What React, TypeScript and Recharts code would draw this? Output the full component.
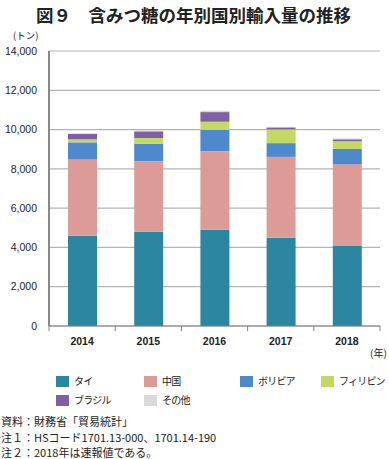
import React from 'react';
import { BarChart, Bar, XAxis, YAxis, CartesianGrid } from 'recharts';

const years = ['2014', '2015', '2016', '2017', '2018'];
const thai = [4600, 4800, 4900, 4490, 4070];
const china = [3870, 3580, 3990, 4120, 4160];
const bolivia = [880, 900, 1090, 700, 785];
const philippines = [150, 290, 420, 700, 390];
const brazil = [275, 340, 490, 100, 100];
const others = [30, 40, 70, 35, 40];
const yTicks = [0, 2000, 4000, 6000, 8000, 10000, 12000, 14000];

const series = [
  { key: 'thai', name: 'タイ', color: '#2b87a1', values: thai },
  { key: 'china', name: '中国', color: '#dd9b98', values: china },
  { key: 'bolivia', name: 'ボリビア', color: '#4f89cd', values: bolivia },
  { key: 'philippines', name: 'フィリピン', color: '#c3d963', values: philippines },
  { key: 'brazil', name: 'ブラジル', color: '#7f5fa6', values: brazil },
  { key: 'others', name: 'その他', color: '#d9d9d9', values: others },
];

const data = years.map((y, i) => {
  const row: Record<string, string | number> = { year: y };
  series.forEach((s) => {
    row[s.key] = s.values[i];
  });
  return row;
});

const jp = '"Noto Sans CJK JP", "Noto Sans", sans-serif';
const num = '"Liberation Sans", Arial, sans-serif';

const XTick = (props: any) => {
  const { x, y, payload, index, width, visibleTicksCount } = props;
  const half = width / visibleTicksCount / 2;
  return (
    <g>
      <line x1={x - half} x2={x - half} y1={y} y2={y + 5} stroke="#808080" strokeWidth={1} />
      {index === visibleTicksCount - 1 && (
        <line x1={x + half} x2={x + half} y1={y} y2={y + 5} stroke="#808080" strokeWidth={1} />
      )}
      <text x={x} y={y + 19} textAnchor="middle" fontFamily={num} fontSize={10.5} fontWeight="bold" fill="#222">
        {payload.value}
      </text>
    </g>
  );
};

const legendRows = [
  [series[0], series[1], series[2], series[3]],
  [series[4], series[5]],
];
const legendX = [56, 144, 240, 321];
const legendY = [381, 400];

export default function App() {
  return (
    <div style={{ position: 'absolute', left: 0, top: 0, width: 389, height: 459, background: '#fff', overflow: 'hidden' }}>
      <div style={{ position: 'absolute', left: 36, top: 4, fontFamily: jp, fontWeight: 'bold', fontSize: 17.5, lineHeight: '22px', color: '#222', whiteSpace: 'nowrap' }}>
        図９　含みつ糖の年別国別輸入量の推移
      </div>
      <div style={{ position: 'absolute', left: 13, top: 29, fontFamily: jp, fontSize: 9.5, lineHeight: '12px', color: '#222', whiteSpace: 'nowrap' }}>
        (トン)
      </div>
      <div style={{ position: 'absolute', left: 0, top: 0 }}>
        <BarChart width={389} height={360} data={data} margin={{ top: 51, right: 9, bottom: 0, left: 0 }}>
          <CartesianGrid vertical={false} stroke="#b3b3b3" strokeWidth={1.2} />
          <XAxis
            dataKey="year"
            height={34}
            tickSize={0}
            tickMargin={0}
            tickLine={false}
            axisLine={{ stroke: '#808080', strokeWidth: 1.2 }}
            tick={<XTick />}
            interval={0}
          />
          <YAxis
            width={49}
            domain={[0, 14000]}
            ticks={yTicks}
            interval={0}
            tickSize={0}
            tickMargin={12}
            tickLine={false}
            axisLine={{ stroke: '#888888', strokeWidth: 2 }}
            tick={{ fontFamily: num, fontSize: 10.5, fill: '#222' }}
            tickFormatter={(v: number) => v.toLocaleString('en-US')}
          />
          {series.map((s) => (
            <Bar key={s.key} dataKey={s.key} name={s.name} stackId="a" fill={s.color} barSize={29} isAnimationActive={false} />
          ))}
        </BarChart>
      </div>
      <div style={{ position: 'absolute', left: 370, top: 347, fontFamily: jp, fontSize: 10, lineHeight: '12px', color: '#222', whiteSpace: 'nowrap' }}>
        (年)
      </div>
      {legendRows.map((row, r) =>
        row.map((s, c) => (
          <div key={s.key} style={{ position: 'absolute', left: legendX[c], top: legendY[r] - 6, height: 12, display: 'flex', alignItems: 'center', whiteSpace: 'nowrap' }}>
            <div style={{ width: 13, height: 11, background: s.color }} />
            <span style={{ marginLeft: 5, fontFamily: jp, fontSize: 10, letterSpacing: '-0.8px', color: '#222', lineHeight: '12px' }}>{s.name}</span>
          </div>
        ))
      )}
      <div style={{ position: 'absolute', left: 1, top: 414, fontFamily: jp, fontSize: 11, lineHeight: '15.5px', color: '#222', whiteSpace: 'nowrap' }}>
        <div>資料：財務省「貿易統計」</div>
        <div>注１：HSコード1701.13-000、1701.14-190</div>
        <div>注２：2018年は速報値である。</div>
      </div>
    </div>
  );
}
